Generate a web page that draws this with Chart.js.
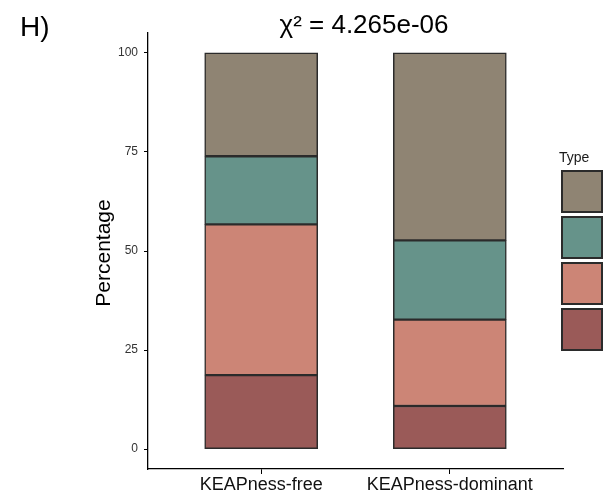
<!DOCTYPE html>
<html>
<head>
<meta charset="utf-8">
<script src="https://cdn.jsdelivr.net/npm/chart.js@4"></script>
<style>
  html, body { margin: 0; padding: 0; background: #fff; }
  canvas { display: block; }
</style>
</head>
<body>
<canvas id="chart" width="605" height="494"></canvas>
<script>
const groups = ["KEAPness-free", "KEAPness-dominant"];
// stacked bottom -> top
const types = ["Type 1", "Type 2", "Type 3", "Type 4"];
const typeColors = ["#9A5A58", "#CC8576", "#66938A", "#8F8473"];
const freeValues = [18.7, 38.0, 17.2, 26.1];
const dominantValues = [10.9, 21.8, 20.0, 47.3];
const yTicks = [0, 25, 50, 75, 100];
const titleText = "\u03C7\u00B2 = 4.265e-06";
const panelTag = "H)";

const FONT = "'Liberation Sans', Arial, sans-serif";

const datasets = types.map((t, i) => ({
  label: t,
  data: [
    { x: 1, y: freeValues[i] },
    { x: 2, y: dominantValues[i] },
  ],
  backgroundColor: typeColors[i],
  borderColor: "#2b2b2b",
  borderWidth: 1.5,
  borderSkipped: false,
  barThickness: 113,
}));

// titles, y label and legend keys
const decorations = {
  id: "decorations",
  afterDraw(chart) {
    const c = chart.ctx;
    c.save();
    c.fillStyle = "#000";
    c.textBaseline = "alphabetic";
    c.textAlign = "left";
    c.font = "28px " + FONT;
    c.fillText(panelTag, 20, 36);
    c.textAlign = "center";
    c.font = "26px " + FONT;
    c.fillText(titleText, 364, 33);

    c.save();
    c.translate(110, 253);
    c.rotate(-Math.PI / 2);
    c.font = "21px " + FONT;
    c.fillText("Percentage", 0, 0);
    c.restore();

    c.textAlign = "left";
    c.font = "14px " + FONT;
    c.fillStyle = "#1a1a1a";
    c.fillText("Type", 559, 162);
    for (let k = 0; k < types.length; k++) {
      const i = types.length - 1 - k;
      const y = 170 + k * 46;
      c.fillStyle = typeColors[i];
      c.fillRect(561, y, 42, 43);
      c.strokeStyle = "#2b2b2b";
      c.lineWidth = 2;
      c.strokeRect(562, y + 1, 40, 41);
    }
    c.restore();
  },
};

new Chart(document.getElementById("chart"), {
  type: "bar",
  data: { datasets },
  plugins: [decorations],
  options: {
    responsive: false,
    animation: false,
    layout: { padding: { left: 0, right: 42, top: 33, bottom: 0 } },
    plugins: {
      legend: { display: false },
      title: { display: false },
      tooltip: { enabled: false },
    },
    scales: {
      x: {
        type: "linear",
        stacked: true,
        offset: false,
        min: 0.4,
        max: 2.6,
        afterBuildTicks: (s) => { s.ticks = groups.map((g, i) => ({ value: i + 1 })); },
        afterFit: (s) => { s.height = 25; },
        grid: { offset: false, drawOnChartArea: false, drawTicks: true, tickLength: 5, color: "#000" },
        border: { display: true, color: "#000", width: 1.3 },
        ticks: {
          padding: 0,
          color: "#111",
          font: { size: 18, family: FONT },
          callback: (v) => groups[Math.round(v) - 1],
          maxRotation: 0,
          autoSkip: false,
        },
      },
      y: {
        stacked: true,
        min: -5,
        max: 105,
        afterBuildTicks: (s) => { s.ticks = yTicks.map((v) => ({ value: v })); },
        afterFit: (s) => { s.width = 148; },
        grid: { drawOnChartArea: false, drawTicks: true, tickLength: 4, color: "#000" },
        border: { display: true, color: "#000", width: 1.3 },
        ticks: {
          padding: 6,
          color: "#333",
          font: { size: 12, family: FONT },
        },
      },
    },
  },
});
</script>
</body>
</html>
